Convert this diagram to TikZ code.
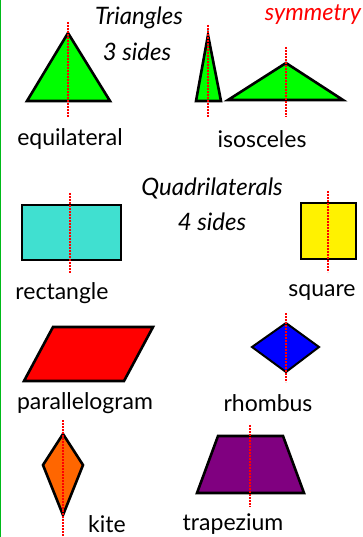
\documentclass[tikz,border=0pt]{standalone}
\usepackage{fontspec}
\setmainfont{Lato}
\begin{document}
\begin{tikzpicture}[x=1pt,y=-1pt,
  fig/.style={draw=black,line width=2.6pt,line join=miter},
  sym/.style={draw=red,line width=1.6pt,dash pattern=on 1.6pt off 1.4pt},
  lbl/.style={font=\fontsize{23}{26}\selectfont,inner sep=0pt},
  ttl/.style={font=\itshape\fontsize{24}{28}\selectfont,inner sep=0pt}]
\useasboundingbox (0,0) rectangle (363,537);
\fill[white] (0,0) rectangle (363,537);
\fill[green!70!black!90!cyan] (0,0) rectangle (1.4,537);
% triangles
\draw[fig,fill=green] (68,33) -- (110,101) -- (27,101) -- cycle;
\draw[sym] (68,22) -- (68,117);
\draw[fig,fill=green] (208,35) -- (221,101) -- (196,101) -- cycle;
\draw[sym] (208,25) -- (208,117);
\draw[fig,fill=green] (286,63) -- (343,100) -- (228,100) -- cycle;
\draw[sym] (286,47) -- (286,117);
\node[ttl] (t1) at (139,18) {Triangles};
\node[ttl] (t2) at (137,52) {3 sides};
\node[ttl,text=red,font=\itshape\fontsize{23.5}{28}\selectfont] (sy) at (313,15) {symmetry};
\node[lbl] (eq) at (70,139) {equilateral};
\node[lbl] (is) at (262,139) {isosceles};
% quadrilaterals
\node[ttl] (q1) at (212,188) {Quadrilaterals};
\node[ttl] (q2) at (212,222) {4 sides};
\draw[fig,fill={rgb,255:red,64;green,224;blue,208}] (22,205) rectangle (121,260);
\draw[sym] (70,193) -- (70,273);
\draw[fig,fill=yellow] (301,203) rectangle (356,259);
\draw[sym] (328,191) -- (328,272);
\node[lbl] (re) at (62,293) {rectangle};
\node[lbl] (sq) at (322,293) {square};
\draw[fig,fill=red] (53,327) -- (153,327) -- (124,381) -- (24,381) -- cycle;
\node[lbl] (pa) at (85,403) {parallelogram};
\draw[fig,line width=2pt,fill=blue] (286,323) -- (319,347) -- (286,372) -- (252,347) -- cycle;
\draw[sym] (286,313) -- (286,382);
\node[lbl] (rh) at (268,403) {rhombus};
\draw[fig,fill={rgb,255:red,255;green,102;blue,0}] (63,434) -- (83,465) -- (63,515) -- (43,465) -- cycle;
\draw[sym] (63,420) -- (63,537);
\node[lbl] (ki) at (107,524) {kite};
\draw[fig,fill={rgb,255:red,128;green,0;blue,128}] (218,436) -- (283,436) -- (304,493) -- (197,493) -- cycle;
\draw[sym] (250,425) -- (250,507);
\node[lbl] (tr) at (233,524) {trapezium};
\end{tikzpicture}
\end{document}
